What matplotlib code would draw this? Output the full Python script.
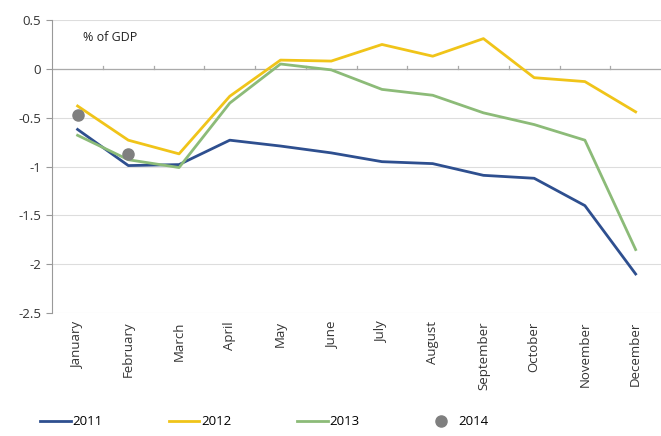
import matplotlib
matplotlib.use("Agg")
import matplotlib.pyplot as plt
import numpy as np

months = ["January", "February", "March", "April", "May", "June", "July",
          "August", "September", "October", "November", "December"]
y2011 = [-0.62, -0.99, -0.98, -0.73, -0.79, -0.86, -0.95, -0.97, -1.09, -1.12, -1.40, -2.10]
y2012 = [-0.38, -0.73, -0.87, -0.28, 0.09, 0.08, 0.25, 0.13, 0.31, -0.09, -0.13, -0.44]
y2013 = [-0.68, -0.93, -1.01, -0.35, 0.05, -0.01, -0.21, -0.27, -0.45, -0.57, -0.73, -1.85]
y2014 = [-0.47, -0.87]
yticks = [0.5, 0, -0.5, -1, -1.5, -2, -2.5]
ytick_labels = ["0.5", "0", "-0.5", "-1", "-1.5", "-2", "-2.5"]

plt.rcParams['font.family'] = ['Open Sans', 'DejaVu Sans']

fig = plt.figure(figsize=(6.61, 4.36), dpi=100)
ax = fig.add_axes([0.079, 0.282, 0.921, 0.672])

x = np.arange(len(months))
ax.plot(x, y2011, color="#2E4F8F", lw=2, label="2011", zorder=3)
ax.plot(x, y2012, color="#F0C419", lw=2, label="2012", zorder=3)
ax.plot(x, y2013, color="#8CBB78", lw=2, label="2013", zorder=3)
ax.plot(x[:len(y2014)], y2014, "o", color="#7F7F7F", ms=8, ls="none", label="2014", zorder=4)

ax.set_xlim(-0.5, len(months) - 0.5)
ax.set_ylim(-2.5, 0.5)
ax.set_yticks(yticks)
ax.set_yticklabels(ytick_labels, fontsize=9.5, color="#333333")
ax.set_xticks(x)
ax.set_xticklabels(months, rotation=90, fontsize=9.5, color="#333333")
ax.tick_params(axis="x", length=0, pad=6)
ax.tick_params(axis="y", length=4, color="#999999", pad=4)

for yv in yticks:
    ax.axhline(yv, color="#DDDDDD", lw=0.8, zorder=1)
ax.axhline(0, color="#AAAAAA", lw=0.9, zorder=2)
for b in np.arange(0.5, len(months) - 0.5, 1.0):
    ax.plot([b, b], [0, 0.03], color="#AAAAAA", lw=0.9, zorder=2)

for s in ["top", "right", "bottom"]:
    ax.spines[s].set_visible(False)
ax.spines["left"].set_color("#999999")

ax.text(0.05, 0.94, "% of GDP", transform=ax.transAxes, fontsize=9, color="#222222",
        va="center")

fig.legend(loc="lower center", ncol=4, frameon=False, fontsize=9.5,
           bbox_to_anchor=(0.40, -0.01), columnspacing=5.0, handlelength=2.3,
           handletextpad=0.15)

fig.savefig("out.png", dpi=100)
